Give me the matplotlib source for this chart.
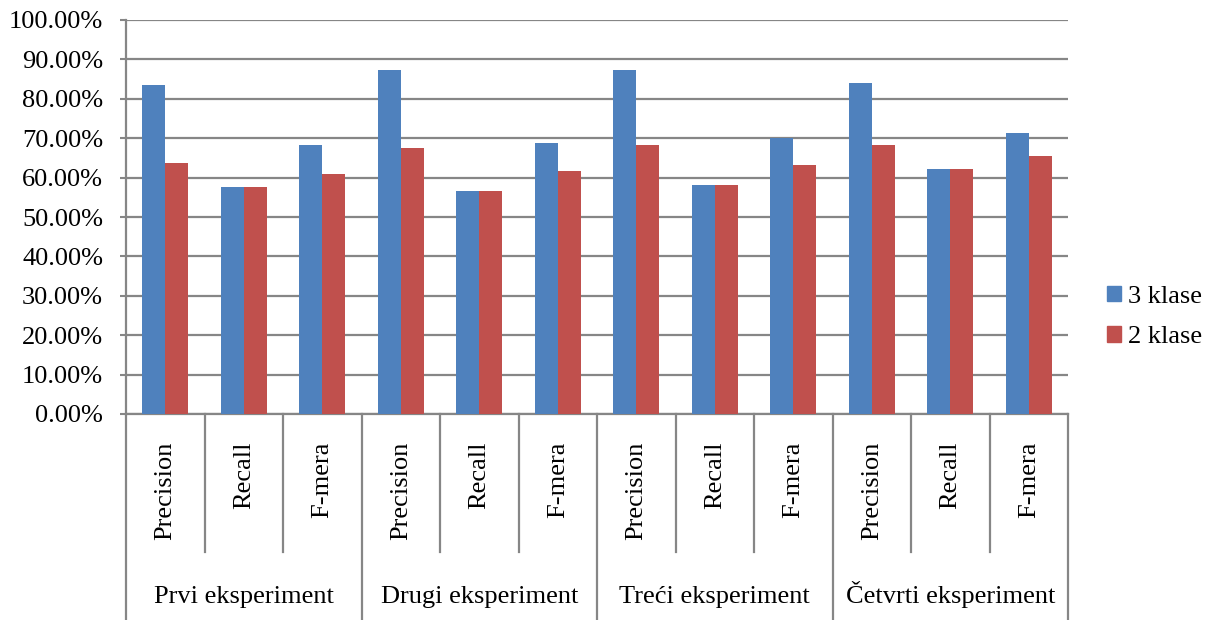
import matplotlib
matplotlib.use("Agg")
import matplotlib.pyplot as plt
from matplotlib.patches import Patch
from matplotlib.ticker import FuncFormatter
import numpy as np

# Results per experiment and metric
experiments = ["Prvi eksperiment", "Drugi eksperiment", "Treći eksperiment", "Četvrti eksperiment"]
metrics = ["Precision", "Recall", "F-mera"]
series_names = ["3 klase", "2 klase"]
klase3 = [83.6, 57.7, 68.4, 87.2, 56.7, 68.9, 87.2, 58.2, 70.0, 84.1, 62.3, 71.4]
klase2 = [63.8, 57.7, 60.8, 67.4, 56.7, 61.8, 68.4, 58.2, 63.3, 68.4, 62.3, 65.4]
y_ticks = [0, 10, 20, 30, 40, 50, 60, 70, 80, 90, 100]

plt.rcParams["font.family"] = ["Liberation Serif", "DejaVu Serif"]
FS = 19
GRID = "#868686"
BLUE = "#4F81BD"
RED = "#C0504D"

W, H = 1209, 620
fig = plt.figure(figsize=(W / 100, H / 100), dpi=100)
left, right, bottom, top = 126, 1068, 414, 20
ax = fig.add_axes([left / W, (H - bottom) / H, (right - left) / W, (bottom - top) / H])

n = len(klase3)
x = np.arange(n)
bw = 0.29
ax.bar(x - bw / 2, klase3, width=bw, color=BLUE, zorder=3)
ax.bar(x + bw / 2, klase2, width=bw, color=RED, zorder=3)

ax.set_xlim(-0.5, n - 0.5)
ax.set_ylim(0, 100)
ax.set_yticks(y_ticks)
ax.yaxis.set_major_formatter(FuncFormatter(lambda v, p: f"{v:.2f}%"))
ax.tick_params(axis="y", length=4.5, width=1.5, color=GRID, labelsize=FS, pad=12)
ax.set_xticks([])
ax.grid(axis="y", color=GRID, linewidth=1.6, zorder=0)
ax.set_axisbelow(True)
for s in ["top", "right"]:
    ax.spines[s].set_visible(False)
for s in ["left", "bottom"]:
    ax.spines[s].set_color(GRID)
    ax.spines[s].set_linewidth(1.6)

# category axis: metric labels, separators and experiment names
inner_bot = -0.350
outer_bot = -(H - bottom) / (bottom - top)
trans = ax.get_xaxis_transform()
for i in range(n + 1):
    xb = i - 0.5
    yb = outer_bot if i % 3 == 0 else inner_bot
    ax.plot([xb, xb], [0, yb], color=GRID, lw=1.6, transform=trans, clip_on=False)
for i in range(n):
    ax.text(x[i], -0.071, metrics[i % 3], rotation=90, ha="center", va="top",
            fontsize=FS, transform=trans)
for g, name in enumerate(experiments):
    ax.text(3 * g + 1, -0.479, name, ha="center", va="baseline", fontsize=FS,
            transform=trans)

handles = [Patch(color=BLUE), Patch(color=RED)]
fig.legend(handles, series_names, loc="center left", bbox_to_anchor=(1094 / W, (H - 317) / H),
           frameon=False, fontsize=FS, handlelength=0.53, handleheight=0.53,
           handletextpad=0.27, labelspacing=0.7, borderpad=0)

fig.savefig("out.png", dpi=100)
